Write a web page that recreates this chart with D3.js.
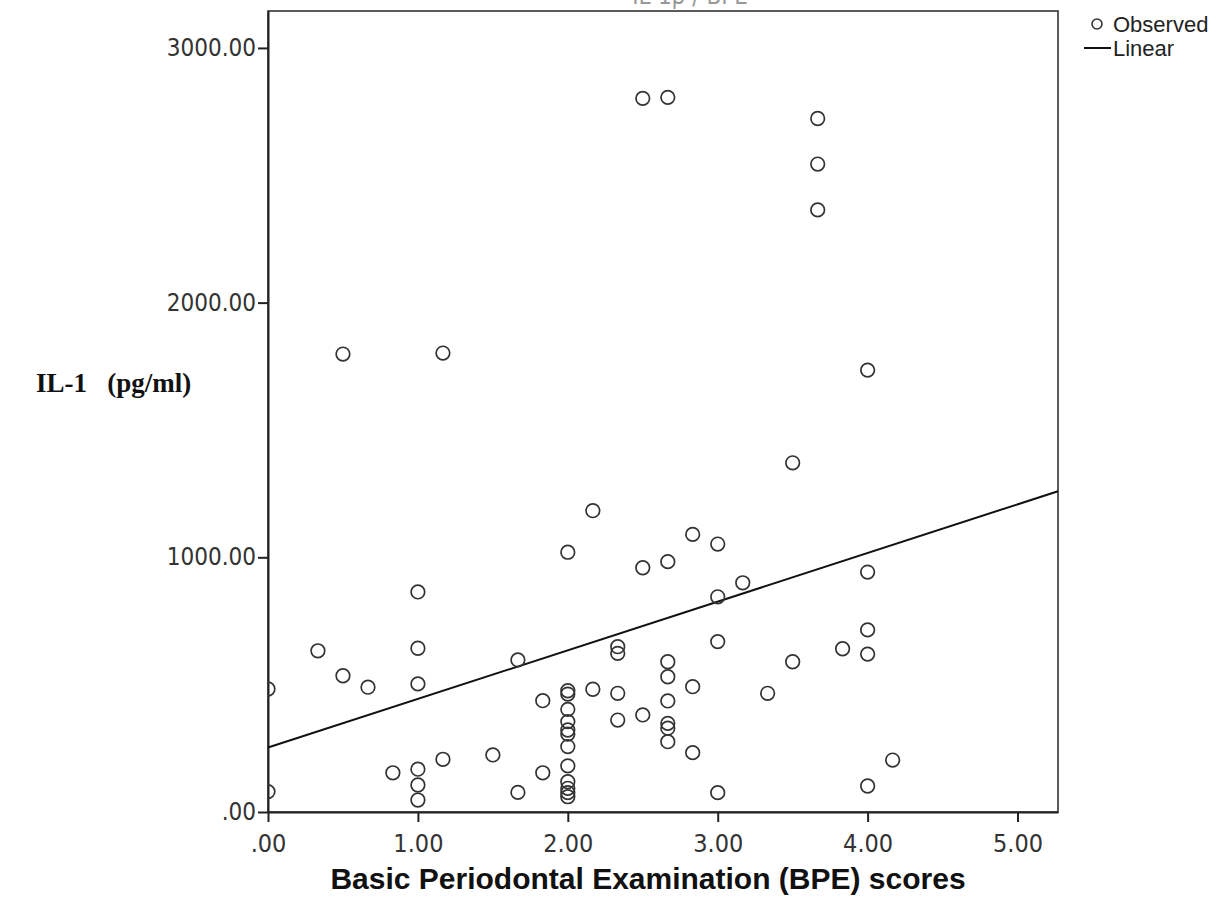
<!DOCTYPE html>
<html>
<head>
<meta charset="utf-8">
<script src="https://cdn.jsdelivr.net/npm/d3@7"></script>
<style>
  html, body { margin: 0; padding: 0; background: #fff; }
  svg { display: block; }
</style>
</head>
<body>
<svg id="chart" width="1227" height="916"></svg>
<script>
// ---- data ----
const bpeScores = [
  0, 0,
  0.333,
  0.5, 0.5,
  0.667,
  0.833,
  1, 1, 1, 1, 1, 1,
  1.167, 1.167,
  1.5,
  1.667, 1.667,
  1.833, 1.833,
  2, 2, 2, 2, 2, 2, 2, 2, 2, 2, 2, 2, 2,
  2.167, 2.167,
  2.333, 2.333, 2.333, 2.333,
  2.5, 2.5, 2.5,
  2.667, 2.667, 2.667, 2.667, 2.667, 2.667, 2.667, 2.667,
  2.833, 2.833, 2.833,
  3, 3, 3, 3,
  3.167,
  3.333,
  3.5, 3.5,
  3.667, 3.667, 3.667,
  3.833,
  4, 4, 4, 4, 4,
  4.167
];
const il1Values = [
  483, 80,
  633,
  535, 1798,
  490,
  154,
  864, 643, 503, 168, 106, 47,
  1802, 207,
  224,
  597, 77,
  437, 154,
  1020, 476, 463, 403, 355, 322, 306, 257, 181, 119, 93, 76, 60,
  1183, 482,
  649, 623, 466, 361,
  2802, 959, 381,
  2806, 983, 590, 531, 436, 348, 329, 276,
  1090, 492, 233,
  1052, 845, 669, 76,
  900,
  466,
  1371, 590,
  2723, 2544, 2364,
  641,
  1735, 942, 715, 620, 102,
  204
];
const linearFit = { intercept: 253, slope: 191 };
const xTickValues = [0, 1, 2, 3, 4, 5];
const xTickLabels = [".00", "1.00", "2.00", "3.00", "4.00", "5.00"];
const yTickValues = [0, 1000, 2000, 3000];
const yTickLabels = [".00", "1000.00", "2000.00", "3000.00"];
const xTitle = "Basic Periodontal Examination (BPE) scores";
const yTitle = "IL-1   (pg/ml)";
const topTitle = "IL-1\u03B2 / BPE";
const legendLabels = ["Observed", "Linear"];

// ---- layout ----
const svg = d3.select("#chart");
const plot = { left: 268, right: 1058, top: 11, bottom: 812 };
const x = d3.scaleLinear().domain([0, 5.27]).range([plot.left, plot.right]);
const y = d3.scaleLinear().domain([0, 3145]).range([plot.bottom, plot.top]);
const ink = "#222";
const sans = "'Liberation Sans', Arial, sans-serif";
const narrow = "'Liberation Sans Narrow', 'Arial Narrow', 'DejaVu Sans Condensed', sans-serif";

svg.append("defs").append("clipPath").attr("id", "plotClip")
  .append("rect").attr("x", plot.left).attr("y", plot.top)
  .attr("width", plot.right - plot.left).attr("height", plot.bottom - plot.top);

// partial top title (cut off by the image edge, as in the source)
svg.append("text")
  .attr("x", 690).attr("y", 4)
  .attr("text-anchor", "middle")
  .attr("font-family", narrow).attr("font-size", 24)
  .attr("fill", "#999")
  .text(topTitle);

// frame
svg.append("rect")
  .attr("x", plot.left).attr("y", plot.top)
  .attr("width", plot.right - plot.left).attr("height", plot.bottom - plot.top)
  .attr("fill", "none").attr("stroke", "#333").attr("stroke-width", 1.6);

// axes
const xAxis = d3.axisBottom(x).tickValues(xTickValues)
  .tickFormat((d, i) => xTickLabels[i]).tickSize(10).tickSizeOuter(0).tickPadding(12);
const gx = svg.append("g").attr("transform", `translate(0,${plot.bottom})`).call(xAxis);
gx.select(".domain").attr("stroke", ink).attr("stroke-width", 2);
gx.selectAll(".tick line").attr("stroke", ink).attr("stroke-width", 2);
gx.selectAll(".tick text").attr("font-family", narrow).attr("font-size", 25).attr("fill", "#333");

const yAxis = d3.axisLeft(y).tickValues(yTickValues)
  .tickFormat((d, i) => yTickLabels[i]).tickSize(10).tickSizeOuter(0).tickPadding(2);
const gy = svg.append("g").attr("transform", `translate(${plot.left},0)`).call(yAxis);
gy.select(".domain").attr("stroke", ink).attr("stroke-width", 2);
gy.selectAll(".tick line").attr("stroke", ink).attr("stroke-width", 2);
gy.selectAll(".tick text").attr("font-family", narrow).attr("font-size", 24).attr("fill", "#333");

// regression line
const xDom = x.domain();
svg.append("line")
  .attr("x1", x(xDom[0])).attr("y1", y(linearFit.intercept + linearFit.slope * xDom[0]))
  .attr("x2", x(xDom[1])).attr("y2", y(linearFit.intercept + linearFit.slope * xDom[1]))
  .attr("stroke", "#111").attr("stroke-width", 2);

// observed points
const pts = bpeScores.map((b, i) => ({ b, v: il1Values[i] }));
svg.append("g").attr("clip-path", "url(#plotClip)")
  .selectAll("circle").data(pts).join("circle")
  .attr("cx", d => x(d.b)).attr("cy", d => y(d.v))
  .attr("r", 6.8)
  .attr("fill", "none").attr("stroke", "#333").attr("stroke-width", 1.7);

// axis titles
svg.append("text")
  .attr("x", 648).attr("y", 889)
  .attr("text-anchor", "middle")
  .attr("font-family", sans).attr("font-weight", "bold").attr("font-size", 30)
  .attr("fill", "#111")
  .text(xTitle);

svg.append("text")
  .attr("x", 36).attr("y", 392)
  .attr("font-family", "'Liberation Serif', 'Times New Roman', serif")
  .attr("font-weight", "bold").attr("font-size", 27)
  .attr("fill", "#111")
  .style("white-space", "pre")
  .text(yTitle);

// legend
const lg = svg.append("g");
lg.append("circle").attr("cx", 1097).attr("cy", 24).attr("r", 5)
  .attr("fill", "none").attr("stroke", "#333").attr("stroke-width", 1.6);
lg.append("text").attr("x", 1113).attr("y", 32)
  .attr("font-family", sans).attr("font-size", 22).attr("fill", "#222")
  .text(legendLabels[0]);
lg.append("line").attr("x1", 1084).attr("x2", 1111).attr("y1", 48).attr("y2", 48)
  .attr("stroke", "#111").attr("stroke-width", 2);
lg.append("text").attr("x", 1113).attr("y", 56)
  .attr("font-family", sans).attr("font-size", 22).attr("fill", "#222")
  .text(legendLabels[1]);
</script>
</body>
</html>
